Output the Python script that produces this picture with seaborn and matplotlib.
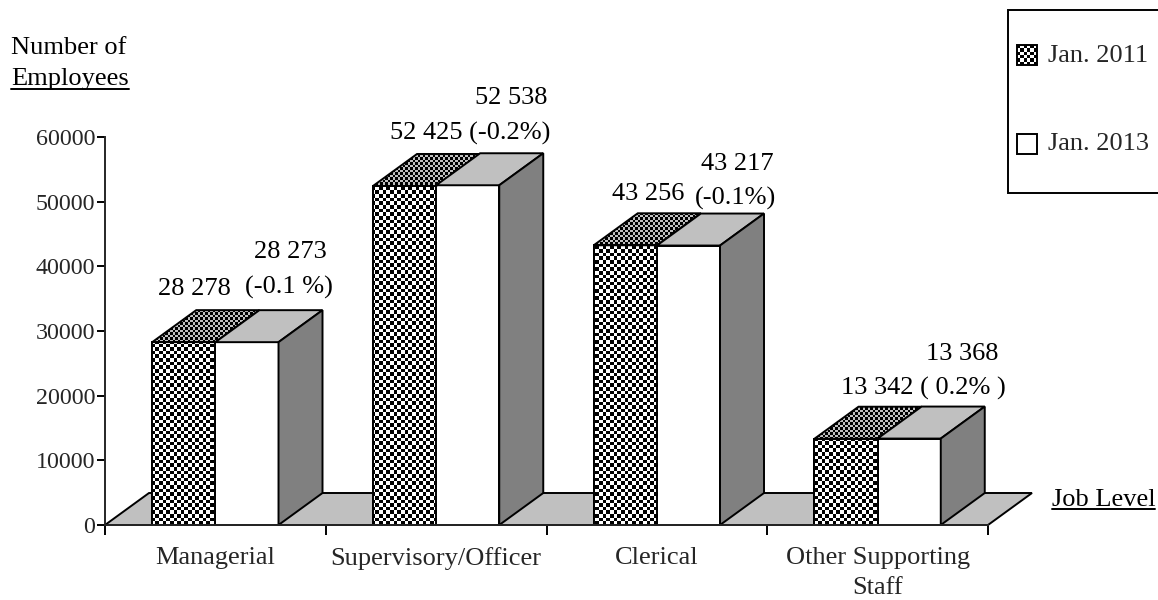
import numpy as np
import pandas as pd
import matplotlib
matplotlib.use('Agg')
import matplotlib.pyplot as plt
from matplotlib.patches import Polygon, Rectangle
from matplotlib.lines import Line2D
import seaborn as sns

categories = ['Managerial', 'Supervisory/Officer', 'Clerical', 'Other Supporting\nStaff']
series_names = ['Jan. 2011', 'Jan. 2013']
values_2011 = [28278, 52425, 43256, 13342]
values_2013 = [28273, 52538, 43217, 13368]
yticks = [0, 10000, 20000, 30000, 40000, 50000, 60000]

W, H = 1158, 600
AX_L, AX_R, AX_T, AX_B = 105, 988, 137, 525
FONT = 19
TICK_FONT = 17.3
LW = 1.4

sns.set_style('ticks')
plt.rcParams['font.family'] = ['Liberation Serif', 'DejaVu Serif']

df = pd.DataFrame({
    'level': categories * 2,
    'count': values_2011 + values_2013,
    'series': [series_names[0]] * 4 + [series_names[1]] * 4,
})

fig = plt.figure(figsize=(W / 100, H / 100), dpi=100, facecolor='white')
ax = fig.add_axes([AX_L / W, 1 - AX_B / H, (AX_R - AX_L) / W, (AX_B - AX_T) / H])

sns.barplot(data=df, x='level', y='count', hue='series', order=categories,
            hue_order=series_names, palette=['white', 'white'], saturation=1,
            width=0.572, gap=0, edgecolor='black', linewidth=LW, legend=False,
            errorbar=None, ax=ax)

ax.set_xlim(-0.5, 3.5)
ax.set_ylim(0, 60000)

# depth of the fake 3d, in data units
dx = 44 / ((AX_R - AX_L) / 4)
dy = 32 / (AX_B - AX_T) * 60000


def checker(cell_px, low, high):
    nx = int((AX_R - AX_L) / cell_px)
    ny = int((AX_B - AX_T) / cell_px)
    yy, xx = np.indices((ny, nx))
    arr = np.where((xx + yy) % 2 == 0, low, high)
    return arr


def texture(cell_px, low, high, clip):
    im = ax.imshow(checker(cell_px, low, high), cmap='gray', vmin=0, vmax=1,
                   extent=(-0.5, 3.5, 0, 60000), aspect='auto',
                   interpolation='nearest', zorder=1.5)
    im.set_clip_path(clip)
    return im


# floor
floor = Polygon([(-0.5, 0), (3.5, 0), (3.5 + dx, dy), (-0.5 + dx, dy)], closed=True,
                facecolor='#c0c0c0', edgecolor='black', linewidth=LW, zorder=0.5,
                clip_on=False)
ax.add_patch(floor)

for cont_i, cont in enumerate(ax.containers):
    for bar in cont:
        x0, w, h = bar.get_x(), bar.get_width(), bar.get_height()
        top = [(x0, h), (x0 + w, h), (x0 + w + dx, h + dy), (x0 + dx, h + dy)]
        if cont_i == 0:
            face = Polygon(top, closed=True, facecolor='none', edgecolor='none',
                           transform=ax.transData)
            ax.add_patch(face)
            texture(2.5, 0.0, 0.75, face)
            ax.add_patch(Polygon(top, closed=True, fill=False, edgecolor='black',
                                 linewidth=LW, zorder=2))
            front = Rectangle((x0, 0), w, h, facecolor='none', edgecolor='none')
            ax.add_patch(front)
            texture(3.6, 0.0, 1.0, front)
            ax.add_patch(Rectangle((x0, 0), w, h, fill=False, edgecolor='black',
                                   linewidth=LW, zorder=2))
        else:
            ax.add_patch(Polygon(top, closed=True, facecolor='#c0c0c0',
                                 edgecolor='black', linewidth=LW, zorder=2))
            side = [(x0 + w, 0), (x0 + w + dx, dy), (x0 + w + dx, h + dy), (x0 + w, h)]
            ax.add_patch(Polygon(side, closed=True, facecolor='#808080',
                                 edgecolor='black', linewidth=LW, zorder=2))

ax.set_xlim(-0.5, 3.5)
ax.set_ylim(0, 60000)
ax.patch.set_alpha(0)
sns.despine(ax=ax)
for s in ['left', 'bottom']:
    ax.spines[s].set_linewidth(LW)
    ax.spines[s].set_zorder(3)
ax.set_xlabel('')
ax.set_ylabel('')
ax.set_yticks(yticks)
ax.set_yticklabels([str(t) for t in yticks], fontsize=TICK_FONT)
ax.tick_params(axis='y', length=6, width=LW, pad=1, color='black')
ax.set_xticks(np.arange(-0.5, 4, 1))
ax.set_xticklabels([])
ax.tick_params(axis='x', which='major', length=7, width=LW, color='black')
ax.set_xticks(np.arange(4), minor=True)
ax.set_xticklabels(categories, minor=True, fontsize=FONT, linespacing=1.45, va='top')
ax.tick_params(axis='x', which='minor', length=0, pad=16)


def px_text(x, y, s, ha='center'):
    fig.text(x / W, 1 - (y + 1.5) / H, s, ha=ha, va='center', fontsize=FONT, color='black')


def px_line(x0, x1, y):
    fig.add_artist(Line2D([x0 / W, x1 / W], [1 - y / H, 1 - y / H], color='black', linewidth=LW))


# data labels sit where the original put them by hand
px_text(194, 288, '28 278')
px_text(290, 250, '28 273')
px_text(289, 286, '(-0.1 %)')
px_text(470, 132, '52 425 (-0.2%)')
px_text(511, 97, '52 538')
px_text(648, 192, '43 256')
px_text(737, 163, '43 217')
px_text(736, 197, '(-0.1%)')
px_text(923, 387, '13 342 ( 0.2% )')
px_text(962, 353, '13 368')

# axis titles
px_text(11, 46, 'Number of', ha='left')
px_text(11, 77, 'Employees', ha='left')
px_line(11, 129, 89)
px_text(1052, 498, 'Job Level', ha='left')
px_line(1052, 1155, 509)

# legend box, runs off the right edge
bg = fig.add_axes([0, 0, 1, 1], zorder=5)
bg.patch.set_alpha(0)
bg.set_xlim(0, W)
bg.set_ylim(H, 0)
bg.axis('off')
bg.add_patch(Rectangle((1008, 10), 170, 183, facecolor='white', edgecolor='black', linewidth=LW))
yy, xx = np.indices((6, 6))
bg.imshow((xx + yy) % 2, cmap='gray', vmin=0, vmax=1, extent=(1017, 1037, 65, 45),
          aspect='auto', interpolation='nearest', zorder=2)
bg.set_xlim(0, W)
bg.set_ylim(H, 0)
bg.add_patch(Rectangle((1017, 45), 20, 20, fill=False, edgecolor='black', linewidth=LW, zorder=3))
bg.add_patch(Rectangle((1017, 134), 20, 20, facecolor='white', edgecolor='black', linewidth=LW, zorder=3))
bg.text(1048, 56, series_names[0], va='center', ha='left', fontsize=FONT)
bg.text(1048, 144, series_names[1], va='center', ha='left', fontsize=FONT)

fig.savefig('out.png', dpi=100)
